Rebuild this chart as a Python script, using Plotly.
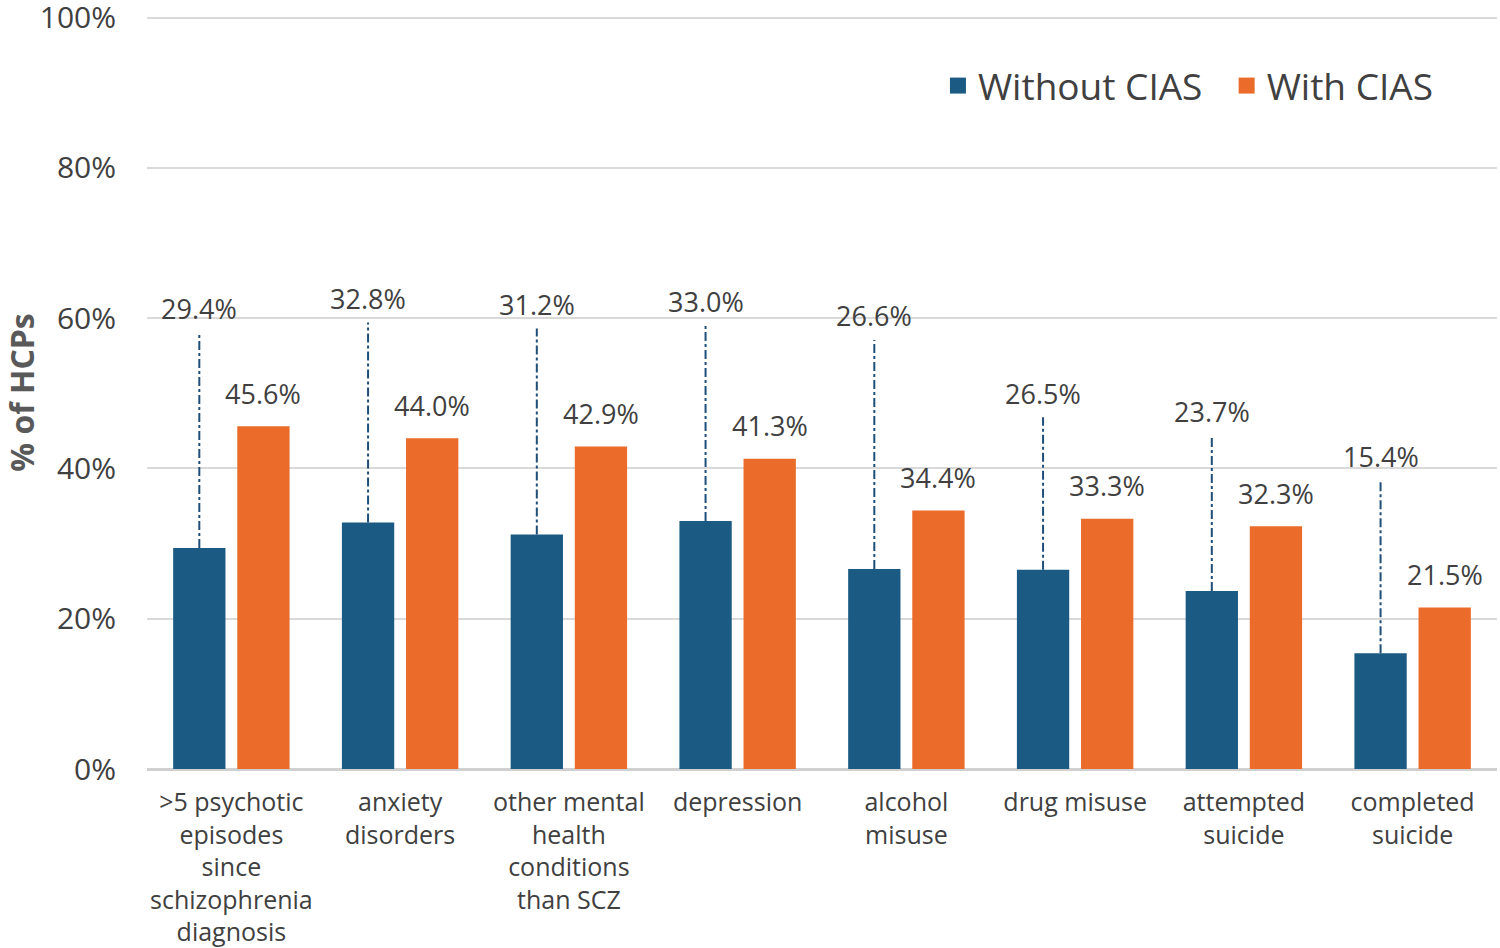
import plotly.graph_objects as go

categories = [">5 psychotic<br>episodes<br>since<br>schizophrenia<br>diagnosis",
              "anxiety<br>disorders",
              "other mental<br>health<br>conditions<br>than SCZ",
              "depression",
              "alcohol<br>misuse",
              "drug misuse",
              "attempted<br>suicide",
              "completed<br>suicide"]
without_cias = [29.4, 32.8, 31.2, 33.0, 26.6, 26.5, 23.7, 15.4]
with_cias = [45.6, 44.0, 42.9, 41.3, 34.4, 33.3, 32.3, 21.5]
# heights (in % units) where the "Without CIAS" labels were placed
without_label_y = [61.3, 62.6, 61.8, 62.2, 60.3, 50.0, 47.6, 41.6]
y_ticks = [0, 20, 40, 60, 80, 100]
series_names = ["Without CIAS", "With CIAS"]

BLUE = "#1b5b83"
ORANGE = "#eb6b2a"
LEADER = "#1f4e79"
TXT = "#404040"
FONT = "Open Sans"

xs = list(range(len(categories)))
off = 0.19
bw = 0.31

fig = go.Figure()
fig.add_trace(go.Bar(x=[x - off for x in xs], y=without_cias, width=bw,
                     marker=dict(color=BLUE, line=dict(width=0)),
                     name=series_names[0], showlegend=False))
fig.add_trace(go.Bar(x=[x + off for x in xs], y=with_cias, width=bw,
                     marker=dict(color=ORANGE, line=dict(width=0)),
                     name=series_names[1], showlegend=False))

# leader lines for the "Without CIAS" labels
lx, ly = [], []
for x, v, ty in zip(xs, without_cias, without_label_y):
    lx += [x - off, x - off, None]
    ly += [v, ty - 3.2, None]
fig.add_trace(go.Scatter(x=lx, y=ly, mode="lines", showlegend=False, hoverinfo="skip",
                         line=dict(color=LEADER, width=2, dash="dashdot")))

# legend entries
for name, col, pad in [(series_names[0], BLUE, "\u00a0\u00a0"), (series_names[1], ORANGE, "")]:
    fig.add_trace(go.Scatter(x=[None], y=[None], mode="markers", name=name + pad,
                             marker=dict(symbol="square", size=22, color=col)))

ann = []
for x, v, ty in zip(xs, without_cias, without_label_y):
    ann.append(dict(x=x - off, y=ty, text=f"{v:.1f}%", showarrow=False,
                    xref="x", yref="y", font=dict(size=27, color=TXT, family=FONT)))
for x, v in zip(xs, with_cias):
    ann.append(dict(x=x + off, y=v, text=f"{v:.1f}%", showarrow=False, yshift=33,
                    xref="x", yref="y", font=dict(size=27, color=TXT, family=FONT)))

fig.update_layout(
    width=1500, height=948,
    margin=dict(l=147, r=3, t=16, b=179),
    paper_bgcolor="white", plot_bgcolor="white",
    font=dict(family=FONT, color=TXT),
    barmode="overlay",
    annotations=ann,
    legend=dict(orientation="h", x=0.957, xanchor="right", y=0.907, yanchor="middle",
                font=dict(size=37, color=TXT, family=FONT), itemwidth=30,
                tracegroupgap=0, bgcolor="rgba(0,0,0,0)"),
    xaxis=dict(range=[-0.5, 7.5], tickmode="array", tickvals=xs, ticktext=categories,
               tickfont=dict(size=25, color=TXT, family=FONT), showgrid=False,
               zeroline=False, showline=False, ticks="", ticklabelstandoff=16,
               automargin=False),
    yaxis=dict(range=[0, 100.2], tickvals=y_ticks, ticktext=[f"{t}%" for t in y_ticks],
               tickfont=dict(size=30, color=TXT, family=FONT), ticklabeloverflow="allow",
               showgrid=True, gridcolor="#d9d9d9", gridwidth=1.5,
               zeroline=True, zerolinecolor="#d0d0d0", zerolinewidth=3,
               showline=False, ticks="", ticklabelstandoff=30, automargin=False,
               title=dict(text="<b>% of HCPs</b>", font=dict(size=32, color="#595959", family=FONT),
                          standoff=5)),
)
fig.write_html("out.html")
